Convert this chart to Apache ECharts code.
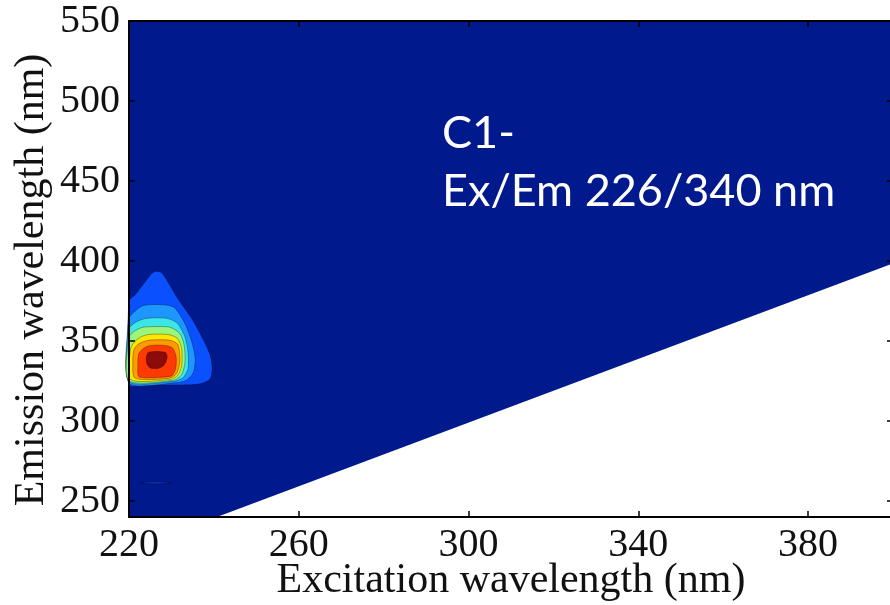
<!DOCTYPE html>
<html>
<head>
<meta charset="utf-8">
<script src="https://cdn.jsdelivr.net/npm/echarts@6/dist/echarts.min.js"></script>
<style>
  html, body { margin: 0; padding: 0; background: #fff; }
  #chart { width: 890px; height: 605px; }
</style>
</head>
<body>
<div id="chart"></div>
<script>
// Axis ranges and tick positions (nm)
const exRange = [220, 400];
const emRange = [240, 550];
const exTicks = [220, 260, 300, 340, 380];
const emTicks = [250, 300, 350, 400, 450, 500, 550];

// Measured region of the EEM (Em > Ex); outside it the map is blank
const measuredRegion = [[220, 240], [220, 550], [400, 550], [400, 398.5], [240.7, 240]];

// Filled contour levels of component C1, outermost first, as [Ex, Em] outlines
const level1 = [[220, 322.5], [220, 375], [221.4, 378.8], [223.8, 386.9], [225.4, 392.3], [226.5, 393.6],
  [227.7, 392.6], [228.9, 388.1], [231.5, 376.4], [234.8, 363.9], [237.4, 351.4], [239.1, 341.3],
  [239.6, 332.7], [239.1, 326.4], [237.4, 323.7], [234.4, 322.6], [223.8, 322.5]];
const level2 = [[220, 323.8], [220, 364], [221.5, 368.8], [223.2, 372], [225.5, 372.8], [229, 372.4],
  [230.8, 370.7], [233.2, 360.8], [234.8, 349.4], [235.6, 338.9], [235.2, 330.6], [233.6, 325.6],
  [231, 323.9]];
const level3 = [[220, 324.7], [220, 357.7], [221.5, 361.6], [223.8, 364], [226.5, 364.5], [229.2, 364],
  [231.5, 360.8], [233.2, 352.5], [233.9, 343.1], [233.9, 332.7], [232.7, 327], [230.5, 324.8]];
const level4 = [[220, 325.3], [220, 352.5], [221.5, 356.5], [223.3, 358.6], [226.5, 359], [229.7, 358.6],
  [232, 354.6], [233, 347.3], [233.2, 336.9], [232.4, 329], [230.5, 325.4]];
const level5 = [[220.4, 325.9], [220.3, 344], [221, 348.6], [222.8, 352.6], [224.5, 354], [227, 354.3],
  [229.7, 353.8], [231.5, 351.4], [232.4, 345.2], [232.4, 334.8], [231.5, 328.6], [229.8, 326]];
const level6 = [[221.4, 326.8], [220.9, 337], [221.2, 345], [222.5, 348.6], [224.5, 350.4], [227, 350.8],
  [229.7, 350.4], [231.5, 347.9], [232, 337.5], [231.2, 329.6], [229.5, 326.7]];
const level7 = [[222.4, 327.6], [222.1, 335], [222.3, 342], [223.5, 345.5], [225, 347.2], [228.5, 347.2],
  [230.3, 345.5], [231.1, 340], [231, 333], [230.2, 328.5], [228.5, 327.5]];
const level8 = [[224.6, 343], [228.5, 343], [229, 340], [228.3, 335], [227, 333], [226, 332.8],
  [225, 333.2], [224.2, 336], [224.1, 340]];
// Small isolated contour near the Rayleigh scatter band
const speck = [[222.8, 261.3], [224.5, 261.9], [228, 261.9], [230, 261.3], [228, 260.8], [224.5, 260.8]];

const regions = [measuredRegion, level1, level2, level3, level4, level5, level6, level7, level8, speck];
const fills = ['#00198c', '#0a50ff', '#1e96ff', '#3ce6e6', '#9bf57a', '#ffe600', '#ff9a00', '#ff3a00', '#8c0a0a', '#0a32c8'];

const chart = echarts.init(document.getElementById('chart'), null, { renderer: 'canvas' });

const serif = '"Liberation Serif", "Times New Roman", serif';
const axisLine = { show: true, onZero: false, lineStyle: { color: '#000', width: 2 } };
const tickIn = (vals) => ({ show: true, inside: true, length: 6, customValues: vals, lineStyle: { color: '#000', width: 1.5 } });

chart.setOption({
  animation: false,
  backgroundColor: '#fff',
  grid: { left: 129, top: 21, width: 764, height: 496, containLabel: false, outerBoundsMode: 'none' },
  xAxis: [
    {
      type: 'value', min: exRange[0], max: exRange[1], position: 'bottom', z: 10,
      axisLine, axisTick: tickIn(exTicks), splitLine: { show: false },
      axisLabel: { customValues: exTicks, margin: 8, color: '#111', fontFamily: serif, fontSize: 40 },
      name: 'Excitation wavelength (nm)', nameLocation: 'middle', nameGap: 43, nameMoveOverlap: false,
      nameTextStyle: { color: '#111', fontFamily: serif, fontSize: 42 }
    },
    {
      type: 'value', min: exRange[0], max: exRange[1], position: 'top', z: 10,
      axisLine, axisTick: tickIn(exTicks), axisLabel: { show: false }, splitLine: { show: false }
    }
  ],
  yAxis: [
    {
      type: 'value', min: emRange[0], max: emRange[1], position: 'left', z: 10,
      axisLine, axisTick: tickIn(emTicks), splitLine: { show: false },
      axisLabel: { customValues: emTicks, margin: 9, color: '#111', fontFamily: serif, fontSize: 40 },
      name: 'Emission wavelength (nm)', nameLocation: 'middle', nameGap: 76, nameMoveOverlap: false,
      nameTextStyle: { color: '#111', fontFamily: serif, fontSize: 42, padding: [0, 22, 0, 0] }
    },
    {
      type: 'value', min: emRange[0], max: emRange[1], position: 'right', z: 10,
      axisLine, axisTick: tickIn(emTicks), axisLabel: { show: false }, splitLine: { show: false }
    }
  ],
  series: [{
    type: 'custom',
    coordinateSystem: 'cartesian2d',
    xAxisIndex: 0, yAxisIndex: 0,
    data: regions.map((r, i) => [r[0][0], r[0][1], i]),
    renderItem: function (params, api) {
      const i = params.dataIndex;
      const pts = regions[i].map(p => api.coord(p));
      const isContour = i > 0;
      return {
        type: 'polygon',
        shape: { points: pts, smooth: isContour ? 0.25 : 0 },
        style: {
          fill: fills[i],
          stroke: isContour ? 'rgba(0,0,0,0.4)' : null,
          lineWidth: isContour ? 0.8 : 0
        }
      };
    }
  }],
  graphic: [{
    type: 'text', left: 442, top: 104, z: 20,
    style: {
      text: 'C1-\nEx/Em 226/340 nm',
      fill: '#ffffff',
      font: '45px Lato',
      lineHeight: 58
    }
  }]
});
</script>
</body>
</html>
